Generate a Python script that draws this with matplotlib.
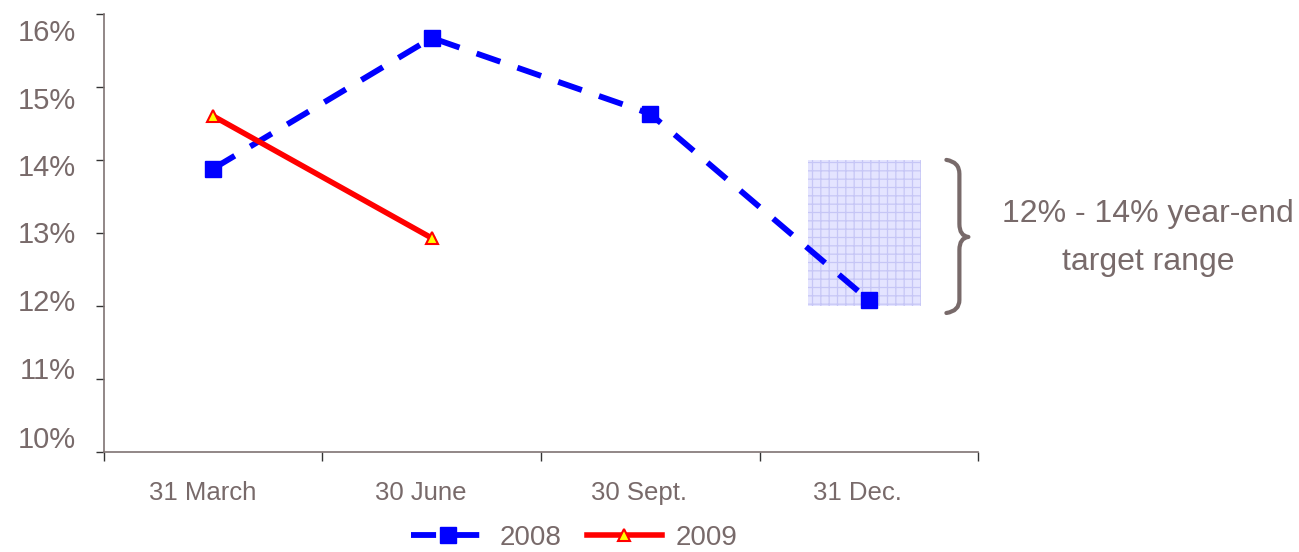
import matplotlib.pyplot as plt
from matplotlib.path import Path
from matplotlib.patches import PathPatch, Rectangle
from matplotlib.ticker import FixedLocator, FuncFormatter
from matplotlib.transforms import ScaledTranslation

categorias = ["31 March", "30 June", "30 Sept.", "31 Dec."]
valores_2008 = [13.88, 15.67, 14.63, 12.08]
valores_2009 = [14.60, 12.93]
faixa_alvo = (12.0, 14.0)
texto_alvo = "12% - 14% year-end\ntarget range"

COR_TEXTO = "#786a6a"

plt.rcParams["font.family"] = ["Liberation Sans", "DejaVu Sans"]
plt.rcParams["hatch.linewidth"] = 0.9

fig = plt.figure(figsize=(12.99, 5.52), dpi=100)
ax = fig.add_axes([0.080, 0.181, 0.673, 0.794])

x = list(range(len(categorias)))

# faixa alvo (retângulo hachurado)
ax.add_patch(Rectangle((2.72, faixa_alvo[0]), 0.52, faixa_alvo[1] - faixa_alvo[0],
                       facecolor="#e4e4ff", edgecolor="#c6c6f6", lw=0, hatch="++", zorder=1))

ax.plot(x, valores_2008, color="#0000ff", lw=4.2, dashes=(4.3, 3.1),
        marker="s", markersize=11, label="2008", zorder=3)
ax.plot(x[:len(valores_2009)], valores_2009, color="#ff0000", lw=4.0,
        marker="^", markersize=9, markerfacecolor="#ffff00",
        markeredgecolor="#ff0000", markeredgewidth=1.5, label="2009", zorder=4)

# chave ao lado da faixa
def px(v):
    return (v - 214) / 218.5

def py(v):
    return 16 - (v - 14) / 73.0

pts = [(947, 160), (960, 162), (960, 174), (960, 224), (960, 236), (969, 237),
       (960, 238), (960, 250), (960, 300), (960, 311), (947, 313)]
codes = [Path.MOVETO, Path.CURVE3, Path.CURVE3, Path.LINETO, Path.CURVE3, Path.CURVE3,
         Path.CURVE3, Path.CURVE3, Path.LINETO, Path.CURVE3, Path.CURVE3]
chave = Path([(px(a), py(b)) for a, b in pts], codes)
ax.add_patch(PathPatch(chave, facecolor="none", edgecolor=COR_TEXTO, lw=3,
                       clip_on=False, capstyle="round", joinstyle="round"))

fig.text(1148 / 1299, 1 - 238 / 552, texto_alvo, ha="center", va="center",
         fontsize=23, color=COR_TEXTO, linespacing=1.75)

ax.set_xlim(-0.5, 3.5)
ax.set_ylim(10, 16)
ax.xaxis.set_major_locator(FixedLocator([-0.5, 0.5, 1.5, 2.5, 3.5]))
ax.xaxis.set_major_formatter(FuncFormatter(lambda v, p: ""))
ax.xaxis.set_minor_locator(FixedLocator(x))
ax.set_xticklabels(categorias, minor=True)
ax.tick_params(axis="x", which="minor", length=0, pad=21, labelsize=18.5, labelcolor=COR_TEXTO)
ax.tick_params(axis="x", which="major", length=6.5, width=1, color="#333333")
ax.set_yticks(range(10, 17))
ax.yaxis.set_major_formatter(FuncFormatter(lambda v, p: f"{v:.0f}%"))
ax.tick_params(axis="y", length=6, width=1, color="#333333", labelsize=21,
               labelcolor=COR_TEXTO, pad=14)

# rótulos deslocados como no original
desloc = [15, 11, 6, 1, -5, -11, -16]
for rotulo, d in zip(ax.get_yticklabels(), desloc):
    rotulo.set_transform(rotulo.get_transform() + ScaledTranslation(0, d / 100, fig.dpi_scale_trans))
for rotulo in ax.get_xticklabels(minor=True):
    rotulo.set_transform(rotulo.get_transform() + ScaledTranslation(-0.11, 0, fig.dpi_scale_trans))

for lado in ["top", "right"]:
    ax.spines[lado].set_visible(False)
for lado in ["left", "bottom"]:
    ax.spines[lado].set_color("#7f7373")
    ax.spines[lado].set_linewidth(1.2)

leg = fig.legend(loc="center", bbox_to_anchor=(0.442, 1 - 538 / 552), ncol=2,
                 frameon=False, fontsize=20, handlelength=2.7, columnspacing=0.9,
                 handletextpad=0.5)
for t in leg.get_texts():
    t.set_color(COR_TEXTO)

fig.savefig("out.png", dpi=100)
